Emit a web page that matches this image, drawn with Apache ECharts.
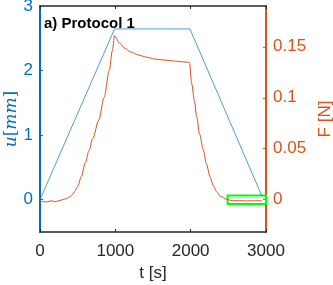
<!DOCTYPE html>
<html>
<head>
<meta charset="utf-8">
<script src="https://cdn.jsdelivr.net/npm/echarts@6/dist/echarts.min.js"></script>
<style>html,body{margin:0;padding:0;background:#fff}#c{width:333px;height:285px}</style>
</head>
<body>
<div id="c"></div>
<script>
// Displacement u [mm] vs time t [s]
const uTime = [0, 990, 1990, 2945];
const uValues = [0, 2.645, 2.645, 0.06];
// Force F [N] vs time t [s]
const fTime = [0, 50, 100, 150, 200, 250, 300, 350, 400, 430, 460, 500, 550, 600, 650, 700, 780, 850, 920, 960, 990,
  1000, 1050, 1128, 1200, 1305, 1400, 1527, 1650, 1748, 1850, 1969, 1985,
  2013, 2050, 2080, 2120, 2168, 2210, 2257, 2300, 2345, 2400, 2478, 2550, 2650, 2750, 2850, 2950];
const fValues = [-0.001, -0.002, -0.002, -0.001, -0.002, -0.001, 0.000, 0.001, 0.003, 0.005, 0.008, 0.013, 0.023, 0.036, 0.048, 0.060, 0.078, 0.100, 0.127, 0.146, 0.161,
  0.160, 0.154, 0.1485, 0.145, 0.142, 0.140, 0.138, 0.137, 0.1363, 0.1355, 0.1348, 0.1345,
  0.114, 0.097, 0.081, 0.064, 0.049, 0.035, 0.0226, 0.014, 0.0078, 0.003, 0.0004, -0.001, -0.001, -0.0012, -0.001, -0.001];
const xTicks = [0, 1000, 2000, 3000];
const uTicks = [0, 1, 2, 3];
const fTicks = [0, 0.05, 0.1, 0.15];
const titleText = 'a) Protocol 1';
const highlightBox = [[2490, 0.0042], [3000, -0.0042]];

const BLUE = '#0072BD', ORANGE = '#D95319', DARK = '#262626';
const FONT = 'Liberation Sans';
const chart = echarts.init(document.getElementById('c'), null, {renderer: 'canvas'});
chart.setOption({
  animation: false,
  backgroundColor: '#fff',
  grid: {left: 40, right: 67, top: 6, bottom: 53, containLabel: false, outerBoundsMode: 'none'},
  title: {text: titleText, left: 44, top: 16, padding: 0, textStyle: {fontFamily: FONT, fontWeight: 'bold', fontSize: 15, color: '#000'}},
  xAxis: [{
    type: 'value', min: 0, max: 3000, interval: 1000, position: 'bottom',
    name: 't [s]', nameLocation: 'middle', nameGap: 33,
    nameTextStyle: {fontFamily: FONT, fontSize: 17, color: DARK},
    axisLine: {onZero: false, lineStyle: {color: DARK, width: 1.5}},
    axisTick: {inside: true, length: 3, lineStyle: {color: DARK}},
    axisLabel: {fontFamily: FONT, fontSize: 17, color: DARK, margin: 11,
      customValues: xTicks, formatter: v => String(v)},
    splitLine: {show: false}
  }, {
    type: 'value', min: 0, max: 3000, interval: 1000, position: 'top',
    axisLine: {onZero: false, lineStyle: {color: DARK, width: 1.5}},
    axisTick: {inside: true, length: 3, lineStyle: {color: DARK}},
    axisLabel: {show: false}, splitLine: {show: false}
  }],
  yAxis: [{
    type: 'value', min: -0.5, max: 3, position: 'left',
    name: '{i|u}{n|[}{i|mm}{n|]}', nameLocation: 'middle', nameGap: 20, nameRotate: 90,
    nameMoveOverlap: false,
    nameTextStyle: {color: BLUE, fontSize: 17, rich: {
      i: {fontFamily: 'DejaVu Serif', fontStyle: 'italic', fontSize: 17, color: BLUE},
      n: {fontFamily: 'DejaVu Serif', fontSize: 17, color: BLUE}}},
    axisLine: {onZero: false, lineStyle: {color: BLUE, width: 2}},
    axisTick: {inside: true, length: 3, customValues: uTicks, lineStyle: {color: BLUE}},
    axisLabel: {fontFamily: FONT, fontSize: 17, color: BLUE, margin: 7, customValues: uTicks},
    splitLine: {show: false}
  }, {
    type: 'value', min: -0.19 / 6, max: 0.19, position: 'right',
    name: 'F [N]', nameLocation: 'middle', nameGap: 50, nameRotate: 90,
    nameTextStyle: {fontFamily: FONT, fontSize: 17, color: ORANGE},
    axisLine: {onZero: false, lineStyle: {color: ORANGE, width: 2}},
    axisTick: {inside: true, length: 3, customValues: fTicks, lineStyle: {color: ORANGE}},
    axisLabel: {fontFamily: FONT, fontSize: 17, color: ORANGE, margin: 7, customValues: fTicks,
      formatter: v => String(Math.round(v * 100) / 100)},
    splitLine: {show: false}
  }],
  series: [{
    type: 'line', xAxisIndex: 0, yAxisIndex: 0,
    data: uTime.map((t, i) => [t, uValues[i]]),
    symbol: 'none', lineStyle: {color: BLUE, width: 0.7}, z: 2
  }, {
    type: 'line', xAxisIndex: 0, yAxisIndex: 1,
    data: fTime.map((t, i) => [t, fValues[i]]),
    symbol: 'none', smooth: 0.3, smoothMonotone: 'x', lineStyle: {color: ORANGE, width: 1}, z: 3,
    markArea: {silent: true, itemStyle: {color: 'rgba(0,0,0,0)', borderColor: '#00FF00', borderWidth: 2},
      data: [[{coord: highlightBox[0]}, {coord: highlightBox[1]}]]}
  }]
});
</script>
</body>
</html>
